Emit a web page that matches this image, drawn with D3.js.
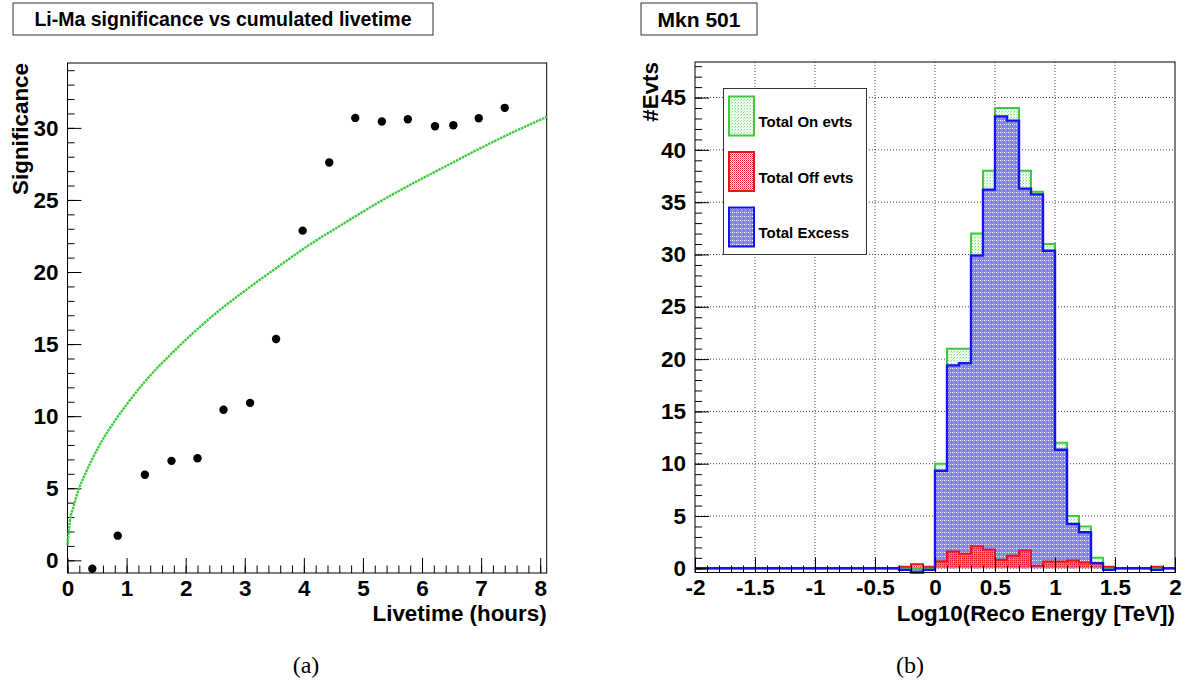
<!DOCTYPE html>
<html>
<head>
<meta charset="utf-8">
<script src="https://cdn.jsdelivr.net/npm/d3@7"></script>
<style>
  body { margin: 0; background: #fff; }
  text { font-family: "Liberation Sans", Arial, Helvetica, sans-serif; font-weight: bold; fill: #000; }
  .caption { font-family: "Liberation Serif", "DejaVu Serif", serif; font-weight: normal; }
</style>
</head>
<body>
<div class="chart-container"></div>
<script>
// left panel : Li-Ma significance vs livetime
var livetime = [0.42, 0.85, 1.31, 1.76, 2.20, 2.64, 3.09, 3.53, 3.98, 4.43, 4.87, 5.32, 5.76, 6.22, 6.53, 6.96, 7.40];
var significance = [-0.58, 1.71, 5.94, 6.90, 7.08, 10.44, 10.92, 15.35, 22.87, 27.6, 30.69, 30.44, 30.6, 30.11, 30.18, 30.67, 31.39];
// expected significance curve (green)
var expTime = [0, 0.04, 0.1, 0.18, 0.3, 0.41, 0.55, 0.78, 1.0, 1.31, 1.85, 2.41, 2.97, 3.54, 4.10, 4.67, 5.23, 5.80, 6.36, 6.92, 7.49, 8.11];
var expSig = [1.06, 2.7, 3.7, 4.8, 6.0, 6.95, 8.05, 9.55, 10.8, 12.4, 14.7, 16.8, 18.6, 20.3, 21.9, 23.35, 24.75, 26.05, 27.25, 28.45, 29.6, 30.76];
var xTicksL = [0, 1, 2, 3, 4, 5, 6, 7, 8];
var yTicksL = [0, 5, 10, 15, 20, 25, 30];

// right panel : Mkn 501 energy histograms, bins of 0.1 in log10(E) from -2 to 2
var binLow = [-2.0, -1.9, -1.8, -1.7, -1.6, -1.5, -1.4, -1.3, -1.2, -1.1,
              -1.0, -0.9, -0.8, -0.7, -0.6, -0.5, -0.4, -0.3, -0.2, -0.1,
               0.0,  0.1,  0.2,  0.3,  0.4,  0.5,  0.6,  0.7,  0.8,  0.9,
               1.0,  1.1,  1.2,  1.3,  1.4,  1.5,  1.6,  1.7,  1.8,  1.9];
var onEvts = [0, 0, 0, 0, 0, 0, 0, 0, 0, 0,
              0, 0, 0, 0, 0, 0, 0, 0, 0, 0,
              10, 21, 21, 32, 38, 44, 44, 38, 36, 31,
              12, 5, 4, 1, 0, 0, 0, 0, 0, 0];
var offEvts = [0, 0, 0, 0, 0, 0, 0, 0, 0, 0,
               0, 0, 0, 0, 0, 0, 0, 0.15, 0.4, 0.15,
               0.67, 1.6, 1.4, 2.1, 1.8, 0.8, 1.2, 1.7, 0.25, 0.65,
               0.66, 0.75, 0.55, 0.5, 0.15, 0, 0, 0, 0.15, 0];
var excess = [0, 0, 0, 0, 0, 0, 0, 0, 0, 0,
              0, 0, 0, 0, 0, 0, 0, -0.15, -0.4, -0.15,
              9.33, 19.4, 19.6, 29.9, 36.2, 43.2, 42.8, 36.3, 35.75, 30.35,
              11.34, 4.25, 3.45, 0.5, -0.15, 0, 0, 0, -0.15, 0];
var xTicksR = [-2, -1.5, -1, -0.5, 0, 0.5, 1, 1.5, 2];
var yTicksR = [0, 5, 10, 15, 20, 25, 30, 35, 40, 45];

var w = 1192;
var h = 686;

var svg = d3.select(".chart-container")
    .append("svg")
    .attr("width", w)
    .attr("height", h);

// fill patterns like ROOT hatch styles
var defs = svg.append("defs");
function pattern(id, size, bg, dots) {
    var p = defs.append("pattern")
        .attr("id", id)
        .attr("patternUnits", "userSpaceOnUse")
        .attr("width", size)
        .attr("height", size);
    if (bg) p.append("rect").attr("width", size).attr("height", size).attr("fill", bg);
    dots.forEach(function(d) {
        p.append("rect").attr("x", d[0]).attr("y", d[1]).attr("width", 1).attr("height", 1).attr("fill", d[2]);
    });
}
pattern("pGreen", 3, "#f0fbf0", [[0, 0, "#80d880"], [2, 1, "#b0e8b0"]]);
pattern("pBlue", 4, "#8686f2", [[0, 0, "#ffffff"], [2, 0, "#e0e0fc"], [1, 2, "#a8a8f6"], [3, 2, "#6a6ae6"]]);
pattern("pRed", 2, null, [[0, 0, "#e01828"], [1, 1, "#f07878"]]);

function titleBox(x, y, bw, bh, label, size) {
    svg.append("rect")
        .attr("x", x).attr("y", y)
        .attr("width", bw).attr("height", bh)
        .attr("fill", "#fff")
        .attr("stroke", "#333")
        .attr("stroke-width", 1);
    svg.append("text")
        .attr("x", x + bw / 2)
        .attr("y", y + bh / 2 + size * 0.36)
        .attr("text-anchor", "middle")
        .style("font-size", size + "px")
        .text(label);
}

function ticks(g, scale, values, orient, len) {
    var ax = orient === "left" ? d3.axisLeft(scale) : d3.axisBottom(scale);
    ax.tickValues(values).tickSizeInner(-len).tickSizeOuter(0).tickFormat("");
    g.call(ax);
    g.select(".domain").remove();
    g.selectAll("line").attr("stroke", "#000").attr("stroke-width", 1);
}

function labels(g, scale, values, orient) {
    var ax = orient === "left" ? d3.axisLeft(scale) : d3.axisBottom(scale);
    ax.tickValues(values).tickSize(0).tickPadding(orient === "left" ? 9 : 7)
      .tickFormat(function(d) { return String(d); });
    g.call(ax);
    g.select(".domain").remove();
    g.selectAll("text")
        .attr("fill", "#000")
        .style("font-size", "22.5px")
        .style("font-family", "'Liberation Sans', Arial, sans-serif")
        .style("font-weight", "bold");
}

// ---------- left panel ----------
var L = {x0: 67.5, x1: 546.7, y0: 63, y1: 573};
var xL = d3.scaleLinear().domain([0, 8.11]).range([L.x0, L.x1]);
var yL = d3.scaleLinear().domain([-0.88, 34.5]).range([L.y1, L.y0]);

titleBox(13, 3, 420, 32, "Li-Ma significance vs cumulated livetime", 19.5);

var gl = svg.append("g");
gl.append("rect")
    .attr("x", L.x0).attr("y", L.y0)
    .attr("width", L.x1 - L.x0).attr("height", L.y1 - L.y0)
    .attr("fill", "none").attr("stroke", "#000");

var gx = gl.append("g").attr("transform", "translate(0," + L.y1 + ")");
ticks(gx.append("g"), xL, d3.range(0, 8.11, 0.2), "bottom", 7.5);
ticks(gx.append("g"), xL, xTicksL, "bottom", 15);
labels(gx.append("g"), xL, xTicksL, "bottom");

var gy = gl.append("g").attr("transform", "translate(" + L.x0 + ",0)");
ticks(gy.append("g"), yL, d3.range(0, 35, 1), "left", 7);
ticks(gy.append("g"), yL, yTicksL, "left", 14);
labels(gy.append("g"), yL, yTicksL, "left");

var expLine = d3.line()
    .x(function(d, i) { return xL(expTime[i]); })
    .y(function(d) { return yL(d); })
    .curve(d3.curveMonotoneX);

gl.append("path")
    .attr("d", expLine(expSig))
    .attr("fill", "none")
    .attr("stroke", "#3ccc3c")
    .attr("stroke-width", 2.4)
    .attr("stroke-dasharray", "2.5,0.8");

gl.selectAll(".pt")
    .data(significance)
    .enter()
    .append("circle")
    .attr("class", "pt")
    .attr("cx", function(d, i) { return xL(livetime[i]); })
    .attr("cy", function(d) { return yL(d); })
    .attr("r", 4.2)
    .attr("fill", "#000");

gl.append("text")
    .attr("x", L.x1)
    .attr("y", 621)
    .attr("text-anchor", "end")
    .style("font-size", "22.4px")
    .text("Livetime (hours)");

gl.append("text")
    .attr("transform", "translate(28," + L.y0 + ") rotate(-90)")
    .attr("text-anchor", "end")
    .style("font-size", "22.4px")
    .text("Significance");

// ---------- right panel ----------
var R = {x0: 695, x1: 1175, y0: 62, y1: 572.5};
var xR = d3.scaleLinear().domain([-2, 2]).range([R.x0, R.x1]);
var yR = d3.scaleLinear().domain([-0.4, 48.4]).range([R.y1, R.y0]);

titleBox(641, 3, 116, 32, "Mkn 501", 21);

var gr = svg.append("g");

// dotted grid
gr.selectAll(".vgrid")
    .data(xTicksR.slice(1, -1))
    .enter().append("line")
    .attr("x1", function(d) { return xR(d); })
    .attr("x2", function(d) { return xR(d); })
    .attr("y1", R.y0).attr("y2", R.y1)
    .attr("stroke", "#444").attr("stroke-width", 1)
    .attr("stroke-dasharray", "1,2");
gr.selectAll(".hgrid")
    .data(yTicksR)
    .enter().append("line")
    .attr("x1", R.x0).attr("x2", R.x1)
    .attr("y1", function(d) { return yR(d); })
    .attr("y2", function(d) { return yR(d); })
    .attr("stroke", "#444").attr("stroke-width", 1)
    .attr("stroke-dasharray", "1,2");

function histPts(vals) {
    var pts = binLow.map(function(b, i) { return [b, vals[i]]; });
    pts.push([2, vals[vals.length - 1]]);
    return pts;
}
var histArea = d3.area()
    .x(function(d) { return xR(d[0]); })
    .y0(yR(0))
    .y1(function(d) { return yR(d[1]); })
    .curve(d3.curveStepAfter);
var histLine = d3.line()
    .x(function(d) { return xR(d[0]); })
    .y(function(d) { return yR(d[1]); })
    .curve(d3.curveStepAfter);

var onS = {vals: onEvts, fill: "url(#pGreen)", stroke: "#3ccc3c", sw: 2};
var exS = {vals: excess, fill: "url(#pBlue)", stroke: "#1414f0", sw: 2.4};
var offS = {vals: offEvts, fill: "url(#pRed)", stroke: "#e81420", sw: 2};

// fills first, then outlines so the blue line stays on top along zero
[onS, exS, offS].forEach(function(s) {
    gr.append("path").attr("d", histArea(histPts(s.vals))).attr("fill", s.fill);
});
[onS, offS, exS].forEach(function(s) {
    gr.append("path").attr("d", histLine(histPts(s.vals)))
        .attr("fill", "none").attr("stroke", s.stroke).attr("stroke-width", s.sw);
});

gr.append("rect")
    .attr("x", R.x0).attr("y", R.y0)
    .attr("width", R.x1 - R.x0).attr("height", R.y1 - R.y0)
    .attr("fill", "none").attr("stroke", "#000");

var rx = gr.append("g").attr("transform", "translate(0," + R.y1 + ")");
ticks(rx.append("g"), xR, d3.range(-2, 2.01, 0.1), "bottom", 7);
ticks(rx.append("g"), xR, xTicksR, "bottom", 15);
labels(rx.append("g"), xR, xTicksR, "bottom");

var ry = gr.append("g").attr("transform", "translate(" + R.x0 + ",0)");
ticks(ry.append("g"), yR, d3.range(0, 49, 1), "left", 7);
ticks(ry.append("g"), yR, yTicksR, "left", 14);
labels(ry.append("g"), yR, yTicksR, "left");

gr.append("text")
    .attr("x", R.x1)
    .attr("y", 621)
    .attr("text-anchor", "end")
    .style("font-size", "22.4px")
    .text("Log10(Reco Energy [TeV])");

gr.append("text")
    .attr("transform", "translate(658," + R.y0 + ") rotate(-90)")
    .attr("text-anchor", "end")
    .style("font-size", "22.4px")
    .text("#Evts");

// legend
var legend = [
    {label: "Total On evts", fill: "url(#pGreen)", stroke: "#3ccc3c"},
    {label: "Total Off evts", fill: "url(#pRed)", stroke: "#e81420"},
    {label: "Total Excess", fill: "url(#pBlue)", stroke: "#1414f0"}
];
var lg = gr.append("g");
lg.append("rect")
    .attr("x", 723.5).attr("y", 88.5)
    .attr("width", 143).attr("height", 166)
    .attr("fill", "#fff").attr("stroke", "#333");
legend.forEach(function(d, i) {
    var cy = 116 + i * 55.5;
    lg.append("rect")
        .attr("x", 729).attr("y", cy - 19.5)
        .attr("width", 25).attr("height", 39)
        .attr("fill", d.fill).attr("stroke", d.stroke).attr("stroke-width", 2);
    lg.append("text")
        .attr("x", 758.5).attr("y", cy + 11)
        .style("font-size", "15px")
        .text(d.label);
});

// captions
svg.append("text").attr("class", "caption")
    .attr("x", 306).attr("y", 673).attr("text-anchor", "middle")
    .style("font-size", "24px").text("(a)");
svg.append("text").attr("class", "caption")
    .attr("x", 910).attr("y", 673).attr("text-anchor", "middle")
    .style("font-size", "24px").text("(b)");
</script>
</body>
</html>
